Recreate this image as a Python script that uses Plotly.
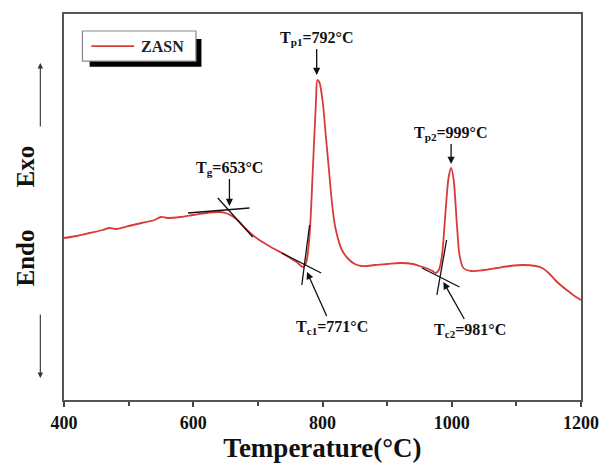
import plotly.graph_objects as go

# DSC curve (temperature in °C, signal in arbitrary units)
temperature = [400, 420, 440, 460, 470, 480, 500, 520, 540, 550, 560, 580, 600, 620, 640, 650,
               660, 670, 680, 690, 700, 720, 740, 750, 760, 765, 770, 775, 780, 785, 790, 792,
               795, 800, 805, 810, 815, 820, 830, 840, 850, 860, 870, 880, 900, 920, 940, 950,
               960, 970, 975, 980, 985, 990, 995, 999, 1003, 1008, 1012, 1018, 1030, 1050, 1070,
               1090, 1110, 1130, 1140, 1150, 1160, 1170, 1180, 1190, 1200]
signal = [162, 164, 167, 170, 172, 171, 174, 177, 180, 183, 182, 183, 185, 187, 188, 187,
          184, 179, 172, 166, 161, 153, 146, 142, 138, 135, 133, 138, 165, 230, 300, 320,
          318, 300, 265, 230, 195, 172, 150, 141, 136, 134, 134, 135, 136, 137, 136, 134,
          132, 129, 127, 130, 145, 185, 222, 232, 220, 175, 145, 132, 129, 130, 132,
          134, 135, 134, 132, 127, 120, 114, 109, 104, 100]

# tangent construction lines (x pairs, y pairs)
tg_line1_x = [592, 687]
tg_line1_y = [187, 192]
tg_line2_x = [638, 692]
tg_line2_y = [202, 163]
tc1_line1_x = [737, 798]
tc1_line1_y = [147, 127]
tc1_line2_x = [780, 768]
tc1_line2_y = [175, 115]
tc2_line1_x = [954, 1012]
tc2_line1_y = [132, 113]
tc2_line2_x = [992, 977]
tc2_line2_y = [160, 105]

# annotations: label, label position (arrow tail), arrow head
labels = ["T<sub>g</sub>=653°C", "T<sub>p1</sub>=792°C", "T<sub>p2</sub>=999°C",
          "T<sub>c1</sub>=771°C", "T<sub>c2</sub>=981°C"]
label_x = [656, 791, 999, 814, 1029]
label_y = [232, 362, 267, 73, 70]
head_x = [656, 791, 999, 776, 987]
head_y = [194, 325, 236, 128, 118]

xticks = [400, 600, 800, 1000, 1200]
xtick_labels = ["400", "600", "800", "1000", "1200"]

FONT = "Liberation Serif"
RED = "#d93a3a"

fig = go.Figure()
fig.add_trace(go.Scatter(x=temperature, y=signal, mode="lines", name="ZASN",
                         line=dict(color=RED, width=1.8, shape="spline", smoothing=0.8),
                         showlegend=False))
for lx, ly in [(tg_line1_x, tg_line1_y), (tg_line2_x, tg_line2_y),
               (tc1_line1_x, tc1_line1_y), (tc1_line2_x, tc1_line2_y),
               (tc2_line1_x, tc2_line1_y), (tc2_line2_x, tc2_line2_y)]:
    fig.add_trace(go.Scatter(x=lx, y=ly, mode="lines", showlegend=False, hoverinfo="skip",
                             line=dict(color="#111", width=1.3)))

annotations = []
for i in range(len(labels)):
    annotations.append(dict(x=head_x[i], y=head_y[i], xref="x", yref="y",
                            ax=label_x[i], ay=label_y[i], axref="x", ayref="y",
                            text="<b>" + labels[i] + "</b>", showarrow=True,
                            arrowhead=2, arrowsize=1.1, arrowwidth=1.3, arrowcolor="#111",
                            font=dict(family=FONT, size=16, color="#111")))

# y-axis label with direction arrows
annotations += [
    dict(x=-0.0744, y=0.368, xref="paper", yref="paper", text="<b>Endo</b>", textangle=-90,
         xanchor="center", yanchor="middle",
         showarrow=False, font=dict(family=FONT, size=25, color="#111")),
    dict(x=-0.0744, y=0.604, xref="paper", yref="paper", text="<b>Exo</b>", textangle=-90,
         xanchor="center", yanchor="middle",
         showarrow=False, font=dict(family=FONT, size=25, color="#111")),
    dict(x=-0.0458, y=0.873, xref="paper", yref="paper", ax=0, ay=65, text="",
         showarrow=True, arrowhead=2, arrowsize=1, arrowwidth=1.1, arrowcolor="#333"),
    dict(x=-0.0458, y=0.057, xref="paper", yref="paper", ax=0, ay=-65, text="",
         showarrow=True, arrowhead=2, arrowsize=1, arrowwidth=1.1, arrowcolor="#333"),
    dict(x=0.145, y=0.917, xref="paper", yref="paper", text="<b>ZASN</b>",
         xanchor="left", yanchor="middle",
         showarrow=False, font=dict(family=FONT, size=16, color="#222")),
]

shapes = [
    dict(type="rect", xref="paper", yref="paper", x0=0.0496, x1=0.2658, y0=0.8635, y1=0.935,
         fillcolor="#000", line=dict(width=0), layer="above"),
    dict(type="rect", xref="paper", yref="paper", x0=0.0357, x1=0.2552, y0=0.878, y1=0.956,
         fillcolor="white", line=dict(color="#888", width=1.2), layer="above"),
    dict(type="line", xref="paper", yref="paper", x0=0.0529, x1=0.1355, y0=0.917, y1=0.917,
         line=dict(color=RED, width=1.8), layer="above"),
]

fig.update_layout(
    width=611, height=471,
    margin=dict(l=64, r=23, t=14, b=71),
    paper_bgcolor="white", plot_bgcolor="white",
    annotations=annotations, shapes=shapes,
    xaxis=dict(range=[400, 1200], tickvals=xticks,
               ticktext=["<b>" + t + "</b>" for t in xtick_labels],
               ticks="outside", ticklen=5, tickwidth=1.5,
               tickcolor="#444", showline=True, mirror=True, linecolor="#555", linewidth=2,
               showgrid=False, zeroline=False,
               tickfont=dict(family=FONT, size=18, color="#111"),
               minor=dict(dtick=100, ticks="outside", ticklen=4, tickwidth=1.5, tickcolor="#444"),
               title=dict(text="<b>Temperature(°C)</b>", standoff=6,
                          font=dict(family=FONT, size=27, color="#111"))),
    yaxis=dict(range=[0, 386], showticklabels=False, ticks="", showline=True, mirror=True,
               linecolor="#555", linewidth=2, showgrid=False, zeroline=False),
)

fig.write_html("out.html")
